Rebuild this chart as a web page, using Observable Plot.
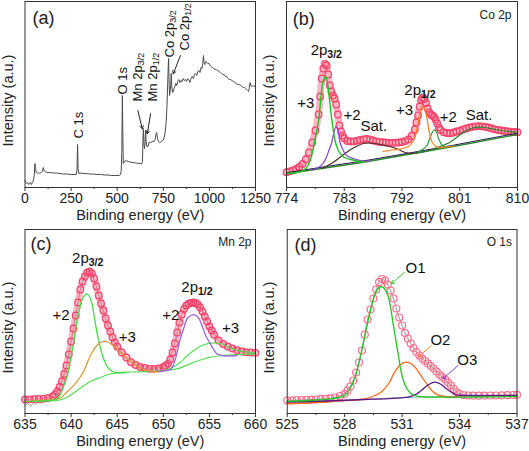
<!DOCTYPE html>
<html><head><meta charset="utf-8">
<script src="https://cdn.jsdelivr.net/npm/d3@7"></script>
<script src="https://cdn.jsdelivr.net/npm/@observablehq/plot@0.6"></script>
<style>
body{margin:0;background:#fff;}
#wrap{position:relative;width:529px;height:451px;overflow:hidden;background:#fff;}
#wrap svg{position:absolute;overflow:visible;}
</style></head><body><div id="wrap"></div>
<script>
// ---------- Panel (a): survey spectrum [BE, intensity] ----------
const survey = [[0,7],[5,5],[10,4],[15,5],[20,3],[25,4],[30,5],[35,3],[40,5],[45,7],[50,12],[54,24],[57,19],[61,15],[66,14],[72,15],[80,14],[88,15],[95,16],[99,20],[103,17],[110,16],[120,15],[135,15],[150,14.5],[170,14.5],[190,14],[210,13.5],[230,13.5],[250,13],[265,13],[278,13],[282,18],[285,43],[288,19],[292,14],[300,14.5],[315,14],[330,14],[350,13.5],[370,13.5],[390,13],[410,13],[430,12.5],[450,12.5],[470,12],[490,12],[510,12],[518,13],[522,17],[525,35],[528,92],[530,60],[533,24],[538,25],[545,27],[552,26.5],[560,26],[570,25.5],[580,25],[590,25],[600,24.5],[612,24.3],[624,24],[633,23.5],[637,26],[640,50],[642,59],[645,43],[648,39],[651,45],[654,57],[657,46],[661,41],[667,41],[673,45],[681,45],[690,46],[700,46],[706,48],[710,53],[714,55],[718,50],[723,46],[731,45],[740,46],[748,47],[755,50],[760,55],[765,64],[770,82],[774,105],[777,122],[779,129],[781,108],[784,92],[787,96],[790,102],[793,114],[796,101],[800,95],[804,96],[808,99],[813,101],[818,104],[823,102],[828,106],[834,108],[840,105],[846,107],[852,106],[858,109],[864,107],[870,108],[876,106],[882,109],[888,108],[894,105],[900,109],[907,111],[913,109],[919,113],[925,114],[931,112],[937,116],[943,117],[949,115],[955,120],[960,119],[964,124],[968,132],[971,125],[975,123],[980,126],[986,125],[992,124],[998,124],[1004,122],[1010,121],[1017,120],[1024,119],[1031,118],[1038,118],[1045,117],[1052,116],[1059,115],[1066,114],[1073,113],[1080,113],[1087,111],[1094,111],[1101,109],[1108,108],[1115,108],[1122,107],[1130,106],[1138,105],[1146,104],[1154,103],[1162,103],[1170,102],[1177,101],[1184,100],[1191,100],[1197,99],[1203,98],[1208,97],[1212,96],[1215,98],[1218,103],[1221,105],[1224,102],[1228,101],[1232,102],[1237,101],[1242,102],[1246,101],[1250,102]];
const surveyTicks = [0,250,500,750,1000,1250];
const surveyMinor = [125,375,625,875,1125];
const surveyLabels = [[290,49,"C 1s"],[531,93,"O 1s"],[610,86,"Mn 2p_3/2"],[691,86,"Mn 2p_1/2"],[784,130,"Co 2p_3/2"],[865,137,"Co 2p_1/2"]];
const surveyArrows = [[612,77,636,58.7],[681,73.7,663,53.7],[843,132,804,113.7]];

// ---------- Panel (b): Co 2p ----------
const coEnv = [[774,15.3],[774.5,16.2],[775,17.2],[775.5,18.5],[776,20.5],[776.5,23.5],[777,28],[777.5,35],[778,45],[778.5,57],[779,73],[779.25,91],[779.5,109],[779.75,119],[780,123.5],[780.25,122],[780.5,113],[780.75,102],[781,96],[781.25,92],[781.5,89],[781.75,83],[782,73],[782.25,62],[782.5,56],[782.75,52],[783,49],[783.5,46.5],[784,46],[784.5,46.2],[785,46.8],[785.5,47.5],[786,48.2],[786.5,48.5],[787,48],[787.5,47],[788,46.2],[788.5,45.7],[789,45.3],[789.5,45],[790,44.7],[790.5,44.7],[791,44.8],[791.5,45],[792,45.5],[792.5,46.5],[793,48],[793.5,51.5],[794,58],[794.25,65],[794.5,72],[794.75,81],[795,88],[795.25,90],[795.5,88.5],[795.75,84.5],[796,79],[796.25,75],[796.5,73],[796.75,72],[797,70.5],[797.25,68],[797.5,64],[797.75,60],[798,57.5],[798.5,55.3],[799,54.5],[799.5,54.3],[800,55],[800.5,56],[801,56.8],[801.5,58],[802,59],[802.5,60],[803,60.7],[803.5,61.2],[804,61.3],[804.5,61.1],[805,60.7],[805.5,60],[806,59],[806.5,58.2],[807,57.5],[807.5,57],[808,56.6],[808.5,56.2],[809,55.8],[809.5,55.5],[810,55.3]];
const coBg = [[774,13.7],[780,19.5],[786,25.3],[792,32],[800,41],[810,53]];
const coShirley = [[774,14.8],[780,20.8],[786,26.6],[792,33.2],[800,42.3],[810,54.3]];
const co3a = [[774,14],[776,15.5],[777,19],[777.5,24],[778,34],[778.5,50],[779,67],[779.5,98],[779.8,108],[780.1,111],[780.4,104],[780.7,88],[781,71],[781.3,57],[781.6,46],[782,38],[782.5,33],[783,30],[784,28],[785,26.5],[786,25.5]];
const co2a = [[778,17.5],[779,20],[779.7,24],[780.2,30],[780.6,37],[781,44],[781.4,55],[781.7,61],[782,58],[782.3,46],[782.7,39],[783.1,34],[783.6,31],[784.4,29],[785.5,27],[787,26.5]];
const coSatA = [[779.5,19],[781,24],[782.5,31],[784,38],[785,41.5],[786,44],[786.8,44.5],[787.8,44],[789,42.5],[790.3,40.5],[791.3,38.5],[792.3,35.5],[793.3,34],[794.5,35]];
const co3b = [[789,36],[790.5,37.5],[791.8,38.7],[793,41],[793.8,47],[794.4,60.3],[794.8,75.3],[795.2,82],[795.7,75.3],[796.2,57],[796.7,45.3],[797.5,40.3],[798.5,40],[800,41.5]];
const co2b = [[794.5,35.5],[795.3,38.5],[795.9,42],[796.4,50.3],[796.8,56],[797.1,57.7],[797.4,55],[797.7,49],[798.3,42],[799,40.5],[800,41.5]];
const coSatB = [[794,34],[796,36.5],[797.5,40],[798.5,42.5],[799.5,45.3],[800.5,50],[801.6,55.3],[802.7,59],[803.7,60.3],[805,60],[806.5,58],[808,56.5],[810,55.3]];
const coTicks = [774,783,792,801,810];
const coMinor = [778.5,787.5,796.5,805.5];
const coLabels = [[780.2,137,"2p_3/2"],[777.0,84,"+3"],[784.2,72,"+2"],[787.6,61,"Sat."],[794.8,97,"2p_1/2"],[792.4,77,"+3"],[799.2,70,"+2"],[804.0,72,"Sat."]];

// ---------- Panel (c): Mn 2p ----------
const mnEnv = [[635,14],[635.5,14.2],[636,14.4],[636.5,14.5],[637,14.7],[637.5,15.5],[638,17],[638.25,19],[638.5,22],[638.75,26.5],[639,32],[639.25,39.5],[639.5,48],[639.75,59],[640,72],[640.25,85],[640.5,98],[640.75,111],[641,124],[641.25,132],[641.5,137],[641.75,141],[642,142],[642.25,140],[642.5,135],[642.75,127],[643,118],[643.25,110],[643.5,103],[643.75,95],[644,88],[644.25,82],[644.5,76],[644.75,71],[645,67],[645.5,61],[646,56],[646.5,51.3],[647,48.5],[647.5,46.5],[648,45.5],[648.5,44.7],[649,44.7],[649.5,45.2],[650,46.5],[650.25,47.8],[650.5,49.7],[650.75,54],[651,61],[651.25,70],[651.5,81],[651.75,91],[652,99],[652.25,104.5],[652.5,108],[652.75,109.8],[653,110.5],[653.25,111],[653.5,110.5],[653.75,109],[654,106],[654.25,102],[654.5,97],[654.75,92],[655,87],[655.25,83],[655.5,79],[656,73],[656.5,69.5],[657,67],[657.5,65],[658,63.3],[658.5,62],[659,61.3],[659.5,61],[660,60.7]];
const mnRaw = [[635,8],[635.3,10],[635.6,7],[635.9,11],[636.2,9],[636.5,12],[636.8,10],[637.1,13],[637.4,12],[637.8,15],[638.2,18],[638.6,23],[639,32],[639.5,47],[640,72],[640.5,98],[641,124],[641.5,138],[641.9,143],[642.3,139],[642.7,128],[643.2,112],[643.7,96],[644.2,83],[644.7,72],[645.2,64],[645.7,59],[646.2,54],[646.7,50],[647.1,49],[647.4,46],[647.7,48],[648,44],[648.3,47],[648.6,43],[648.9,48],[649.2,44],[649.5,47],[649.8,45],[650.1,48],[650.4,50],[650.8,57],[651.2,68],[651.6,84],[652,99],[652.5,108],[653,111],[653.5,111],[654,106],[654.5,97],[655,88],[655.5,80],[656,73],[656.5,70],[657,66],[657.5,66],[658,63],[658.5,62],[659,62],[659.5,60],[660,61]];
const mnBg = [[635,12],[636,12.3],[637,12.5],[638.5,13],[639,14],[639.6,16.3],[640.5,22],[641.4,28],[642.3,33],[643.3,36.3],[644,39],[645,40.7],[646.5,41.5],[648.6,42],[650,43],[651.5,44.7],[652.5,48],[653.3,51.3],[654.2,54],[655.1,56.3],[656.5,58],[657.6,58.7],[659,59.4],[660,59.7]];
const mn2a = [[636,12.3],[637,12.6],[638.5,14.7],[639,23],[639.6,38],[640,58],[640.3,71.3],[640.6,91],[641,108],[641.3,116],[641.7,119.7],[642,117],[642.3,108],[642.8,81.3],[643.4,58],[643.8,49],[644.1,44.7],[644.5,42],[645,40.7],[646,41]];
const mn3a = [[636,13],[638,14],[638.8,15.3],[639.5,21],[640.6,31.3],[641.4,43],[642.1,58],[642.8,68],[643.3,71.5],[643.8,72],[644.3,70],[644.8,66.3],[645.4,61],[646.1,54.7],[647,48.5],[647.6,44.7],[649,42],[650,42]];
const mn2b = [[649.5,42],[650.3,43],[650.8,44],[651.2,51],[651.5,61.3],[651.8,73],[652.2,84.7],[652.6,95],[653,98],[653.4,98.7],[653.8,96],[654.2,88],[654.6,78],[655,71.3],[655.4,65],[655.8,59.7],[656.4,58],[657,57.3],[658,58]];
const mn3b = [[650,43],[651,46],[651.8,50.7],[652.5,57],[653.3,63],[654.2,68],[655.4,70.7],[656.3,69.5],[657.6,64],[658.7,62],[659.8,60.7],[660,60.5]];
const mnTicks = [635,640,645,650,655,660];
const mnMinor = [637.5,642.5,647.5,652.5,657.5];
const mnLabels = [[641.8,155,"2p_3/2"],[653.65,126,"2p_1/2"],[638.9,98,"+2"],[646.1,76,"+3"],[650.8,98,"+2"],[657.3,85,"+3"]];

// ---------- Panel (d): O 1s ----------
const oEnv = [[525,13],[525.25,13.2],[525.5,13.4],[525.75,13.5],[526,13.7],[526.25,13.9],[526.5,14],[526.75,14.3],[527,14.7],[527.25,15.2],[527.5,16],[527.75,17.5],[528,19.7],[528.15,23],[528.3,27],[528.45,33],[528.6,41],[528.75,51],[528.9,63],[529.05,79],[529.2,94],[529.35,104],[529.5,115],[529.65,124],[529.8,131.5],[529.95,134.5],[530.1,133],[530.25,129],[530.4,123],[530.55,115],[530.7,105],[530.85,96],[531,88],[531.15,80.5],[531.3,75],[531.45,70],[531.6,65.5],[531.75,61.5],[531.9,58],[532.05,55],[532.2,52.5],[532.35,50],[532.5,47.5],[532.65,45],[532.8,42],[532.95,39],[533.1,36.5],[533.25,34],[533.4,31],[533.55,28],[533.7,24.5],[533.85,21.5],[534,19.5],[534.2,18.5],[534.45,18],[534.7,17.8],[535,17.8],[535.3,17.9],[535.6,18],[535.9,18],[536.2,18.2],[536.5,18.3],[536.8,18.5],[537,18.7]];
const oBg = [[525,11.3],[527,12.7],[529,14],[531,16],[533,17],[535,17.2],[537,17.3]];
const oO1 = [[525,12],[526.5,13.5],[527.3,14.7],[527.7,16],[528,18],[528.25,24],[528.52,34.7],[528.7,47],[528.87,61.3],[529.05,77],[529.21,91.3],[529.4,107],[529.56,118],[529.75,125],[529.91,127],[530.07,125],[530.26,118],[530.4,106],[530.52,91.3],[530.65,76],[530.78,61.3],[530.9,47],[531.04,34.7],[531.25,25],[531.48,19.7],[531.8,17.3],[532.2,16.5],[533,16.3],[534,16.3],[535,16.5],[537,17]];
const oO2 = [[525,9.7],[526,10.5],[527,11.5],[528,12.8],[528.8,14],[529.4,16.5],[529.9,21.3],[530.3,30],[530.61,41.3],[530.9,48.5],[531.2,51.3],[531.5,49.5],[531.74,44.7],[532.05,36],[532.35,28],[532.6,22],[532.87,18.7],[533.2,17],[533.57,16.3],[534,16.3]];
const oO3 = [[525,11.3],[527,12.5],[529.04,14],[530.5,15.2],[531.3,16.3],[531.7,19],[532,23],[532.35,28.5],[532.7,31.3],[533,29.5],[533.31,24.7],[533.6,21],[533.83,18.7],[534.2,18.2],[534.62,18],[536,18],[537,18]];
const oTicks = [525,528,531,534,537];
const oMinor = [526.5,529.5,532.5,535.5];
const oLabels = [[531.7,145,"O1"],[533.0,73,"O2"],[534.4,53,"O3"]];
const oArrows = [[531.13,141.3,530.44,129.7],[532.53,68,531.83,56.3],[533.92,48,533.13,34.7]];

// ---------- drawing ----------
const FONT = "'Liberation Sans', Arial, Helvetica, sans-serif";
const wrap = document.getElementById("wrap");
const NS = "http://www.w3.org/2000/svg";
const X = d => d[0], Y = d => d[1];

function subscripts(svg, bold) {
  svg.querySelectorAll("text").forEach(t => {
    const s = t.textContent;
    const i = s.indexOf("_");
    if (i < 0) return;
    t.textContent = "";
    const a = document.createElementNS(NS, "tspan");
    a.textContent = s.slice(0, i);
    const b = document.createElementNS(NS, "tspan");
    b.textContent = s.slice(i + 1);
    b.setAttribute("dy", "0.3em");
    b.setAttribute("font-size", "0.7em");
    if (bold) b.setAttribute("font-weight", "bold");
    t.append(a, b);
  });
}

function panel(o) {
  const svg = Plot.plot({
    width: o.width, height: o.height,
    marginLeft: o.mL, marginRight: o.mR, marginTop: o.mT, marginBottom: o.mB,
    style: {fontFamily: FONT, fontSize: "14px", color: "#222", background: "transparent", overflow: "visible"},
    x: {domain: o.xDomain, label: null},
    y: {domain: o.yDomain, axis: null, label: null},
    marks: [
      Plot.axisX({ticks: o.minor, tickSize: 2, tickFormat: () => "", label: null, stroke: "#333"}),
      Plot.axisX({ticks: o.major, tickSize: 4, tickPadding: 2, tickFormat: d => String(d), label: null, fontSize: 14, stroke: "#333"}),
      ...o.marks,
      Plot.frame({stroke: "#333", strokeWidth: 1}),
      Plot.text([o.letter], {frameAnchor: "top-left", textAnchor: "start", lineAnchor: "middle", dx: o.letterDx, dy: o.letterDy, fontSize: 18}),
      ...(o.name ? [Plot.text([o.name], {frameAnchor: "top-right", textAnchor: "end", lineAnchor: "middle", dx: o.nameDx, dy: o.nameDy, fontSize: 12})] : []),
      Plot.text(["Binding energy (eV)"], {frameAnchor: "bottom", textAnchor: "middle", lineAnchor: "middle", dy: 28, fontSize: 14.5}),
      Plot.text(["Intensity (a.u.)"], {frameAnchor: "left", textAnchor: "middle", lineAnchor: "middle", rotate: -90, dx: o.yLabDx, dy: 6, fontSize: 14.5})
    ]
  });
  subscripts(svg, o.boldSub);
  svg.style.left = o.left + "px";
  svg.style.top = o.top + "px";
  wrap.appendChild(svg);
}

const line = (data, stroke, w = 1.2, curve = "catmull-rom") => Plot.line(data, {x: X, y: Y, stroke, strokeWidth: w, curve});
const band = (data, stroke) => Plot.line(data, {x: X, y: Y, stroke, strokeWidth: 7, strokeOpacity: 0.45, curve: "catmull-rom"});
const circles = (data, stroke, r = 3.3) => Plot.dot(data, {x: X, y: Y, r, stroke, strokeWidth: 1.2, fill: "none"});

// (a)
panel({
  left: 0, top: 0, width: 264, height: 225, mL: 24.5, mR: 9, mT: 1, mB: 38,
  xDomain: [0, 1250], yDomain: [0, 186], major: surveyTicks, minor: surveyMinor,
  letter: "(a)", letterDx: 7.5, letterDy: 17, yLabDx: -16.5, boldSub: false,
  marks: [
    Plot.line(survey, {x: X, y: Y, stroke: "#4a4a4a", strokeWidth: 1}),
    Plot.arrow(surveyArrows, {x1: d => d[0], y1: d => d[1], x2: d => d[2], y2: d => d[3], stroke: "#222", strokeWidth: 1, headLength: 5}),
    Plot.text(surveyLabels, {x: d => d[0], y: d => d[1], text: d => d[2], rotate: -90, textAnchor: "start", lineAnchor: "middle", fontSize: 13, fill: "#111"})
  ]
});

// (b)
panel({
  left: 264, top: 0, width: 265, height: 225, mL: 22, mR: 12, mT: 1, mB: 38,
  xDomain: [774, 810], yDomain: [0, 186], major: coTicks, minor: coMinor,
  letter: "(b)", letterDx: 6.3, letterDy: 18, name: "Co 2p", nameDx: -6, nameDy: 14, yLabDx: -17, boldSub: true,
  marks: [
    band(coEnv, "#ff5c7e"),
    circles(coEnv, "#f5436a"),
    line(coBg, "#2a8c2a", 1.4, "linear"),
    line(coShirley, "#2a1a50", 1, "linear"),
    line(coSatA, "#4a2a20"),
    line(co2a, "#8a3fd0"),
    line(co3a, "#1ec51e", 1.4),
    line(coSatB, "#2d7d2d"),
    line(co2b, "#2b9c3a"),
    line(co3b, "#ff7f1e"),
    Plot.text(coLabels, {x: d => d[0], y: d => d[1], text: d => d[2], fontSize: 15, fill: "#111"})
  ]
});

// (c)
panel({
  left: 0, top: 225, width: 264, height: 226, mL: 24.5, mR: 9, mT: 4, mB: 38,
  xDomain: [635, 660], yDomain: [0, 184], major: mnTicks, minor: mnMinor,
  letter: "(c)", letterDx: 5.5, letterDy: 15, name: "Mn 2p", nameDx: -4, nameDy: 13, yLabDx: -16.5, boldSub: true,
  marks: [
    line(mnRaw, "#9a9a9a", 1, "linear"),
    band(mnEnv, "#ff5c7e"),
    circles(mnEnv, "#f5436a"),
    line(mnBg, "#55dd55"),
    line(mn3a, "#d4982f"),
    line(mn2a, "#44dd44", 1.3),
    line(mn3b, "#55dd55"),
    line(mn2b, "#9966dd", 1.3),
    Plot.text(mnLabels, {x: d => d[0], y: d => d[1], text: d => d[2], fontSize: 15, fill: "#111"})
  ]
});

// (d)
panel({
  left: 264, top: 225, width: 265, height: 226, mL: 22.7, mR: 12.5, mT: 4, mB: 38,
  xDomain: [525, 537], yDomain: [0, 184], major: oTicks, minor: oMinor,
  letter: "(d)", letterDx: 7.3, letterDy: 15.5, name: "O 1s", nameDx: -5, nameDy: 12.5, yLabDx: -17.5, boldSub: false,
  marks: [
    line(oEnv, "#a8a8a8", 1.2),
    line(oBg, "#88b8b8", 1.2, "linear"),
    circles(oEnv, "#ff6d8c", 3.5),
    line(oO2, "#ff6a14", 1.3),
    line(oO3, "#5b1a86", 1.3),
    line(oO1, "#22c322", 1.3),
    Plot.arrow(oArrows, {x1: d => d[0], y1: d => d[1], x2: d => d[2], y2: d => d[3], stroke: (d, i) => ["#33cc33", "#ff8040", "#8a3fc0"][i], strokeWidth: 1, headLength: 5}),
    Plot.text(oLabels, {x: d => d[0], y: d => d[1], text: d => d[2], fontSize: 15, fill: "#111"})
  ]
});
</script>
</body></html>
